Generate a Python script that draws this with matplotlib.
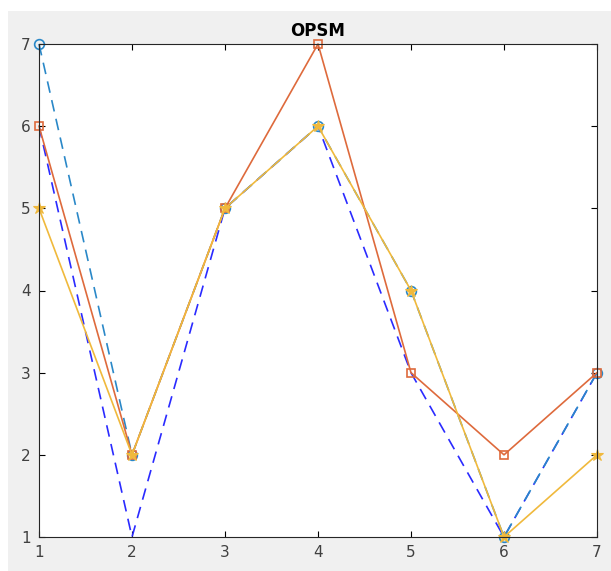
import matplotlib
matplotlib.use("Agg")
import matplotlib.pyplot as plt
from matplotlib.patches import Rectangle

# data
x = [1, 2, 3, 4, 5, 6, 7]
s_dark = [6, 1, 5, 6, 3, 1, 3]     # dark blue dashed, no marker
s_blue = [7, 2, 5, 6, 4, 1, 3]     # light blue dashed, circles
s_red = [6, 2, 5, 7, 3, 2, 3]      # red, squares
s_yel = [5, 2, 5, 6, 4, 1, 2]      # yellow, stars

fig = plt.figure(figsize=(6.11, 5.71), dpi=100, facecolor="white")
fig.patches.append(Rectangle((8/611, 0), 1, 560/571, transform=fig.transFigure,
                             facecolor="#f0f0f0", edgecolor="none", zorder=-10))

ax = fig.add_axes([39/611, 34/571, 558/611, 493/571])
ax.plot(x, s_dark, color="#2a2aff", ls=(0, (7, 4.5)), lw=1.2)
ax.plot(x, s_blue, color="#2a88c8", ls=(0, (7, 4.5)), lw=1.2, marker="o",
        markersize=7, markerfacecolor="none", markeredgewidth=1.2, clip_on=False)
ax.plot(x, s_red, color="#de6a3c", lw=1.2, marker="s",
        markersize=6, markerfacecolor="none", markeredgewidth=1.2, clip_on=False)
ax.plot(x, s_yel, color="#f0b93c", lw=1.2, marker="*",
        markersize=9, markeredgewidth=0.8, clip_on=False)

ax.set_xlim(1, 7)
ax.set_ylim(1, 7)
ax.set_xticks(x)
ax.set_yticks(range(1, 8))
ax.tick_params(direction="in", length=4, labelsize=11, labelcolor="#404040",
               top=True, right=True, pad=6)
for sp in ax.spines.values():
    sp.set_color("#262626")
    sp.set_linewidth(0.8)
ax.set_title("OPSM", fontsize=12, fontweight="bold", pad=6)

fig.savefig("out.png", dpi=100, facecolor=fig.get_facecolor())
